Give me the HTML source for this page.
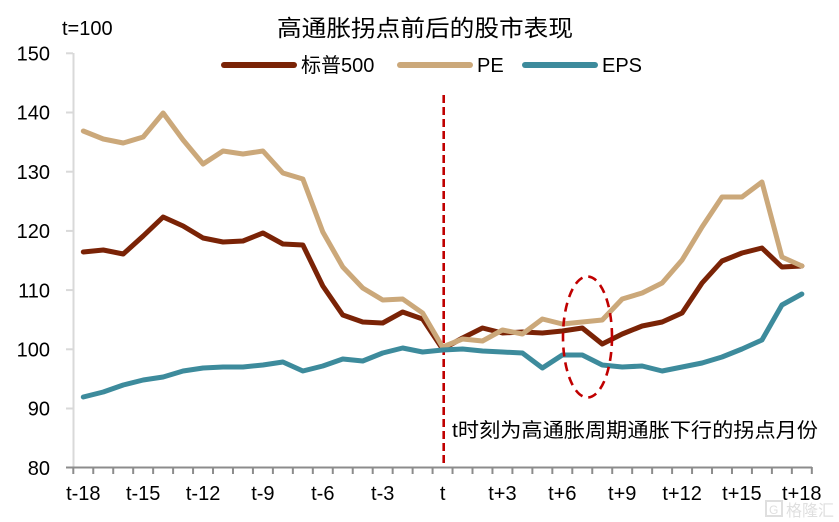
<!DOCTYPE html>
<html>
<head>
<meta charset="utf-8">
<style>
  html, body { margin: 0; padding: 0; background: #ffffff; }
  body { width: 839px; height: 522px; overflow: hidden; }
  svg { display: block; }
  text { font-family: "Liberation Sans", "Noto Sans CJK SC", sans-serif; fill: #000; }
</style>
</head>
<body>
<svg width="839" height="522" viewBox="0 0 839 522" xmlns="http://www.w3.org/2000/svg">
  <rect x="0" y="0" width="839" height="522" fill="#ffffff"/>

  <!-- title -->
  <text x="277" y="36" font-size="23" textLength="296" lengthAdjust="spacingAndGlyphs">高通胀拐点前后的股市表现</text>
  <text x="62" y="35" font-size="20">t=100</text>

  <!-- legend -->
  <line x1="224" y1="65" x2="294" y2="65" stroke="#7a2306" stroke-width="6" stroke-linecap="round"/>
  <text x="301" y="72" font-size="20">标普500</text>
  <line x1="400" y1="65" x2="470" y2="65" stroke="#cba87a" stroke-width="6" stroke-linecap="round"/>
  <text x="477" y="72" font-size="20">PE</text>
  <line x1="525" y1="65" x2="595" y2="65" stroke="#3d8b9c" stroke-width="6" stroke-linecap="round"/>
  <text x="602" y="72" font-size="20">EPS</text>

  <!-- y axis -->
  <line x1="73.5" y1="53" x2="73.5" y2="467" stroke="#d9d9d9" stroke-width="2"/>
  <g stroke="#d9d9d9" stroke-width="2">
    <line x1="66" y1="53.3" x2="73" y2="53.3"/>
    <line x1="66" y1="112.5" x2="73" y2="112.5"/>
    <line x1="66" y1="171.7" x2="73" y2="171.7"/>
    <line x1="66" y1="230.9" x2="73" y2="230.9"/>
    <line x1="66" y1="290.1" x2="73" y2="290.1"/>
    <line x1="66" y1="349.3" x2="73" y2="349.3"/>
    <line x1="66" y1="408.5" x2="73" y2="408.5"/>
  </g>
  <g font-size="20" text-anchor="end">
    <text x="50" y="60.5">150</text>
    <text x="50" y="119.7">140</text>
    <text x="50" y="178.9">130</text>
    <text x="50" y="238.1">120</text>
    <text x="50" y="297.3">110</text>
    <text x="50" y="356.5">100</text>
    <text x="50" y="415.7">90</text>
    <text x="50" y="474.9">80</text>
  </g>

  <!-- x axis -->
  <line x1="66" y1="467.5" x2="812" y2="467.5" stroke="#8c8c8c" stroke-width="2"/>
  <g stroke="#8c8c8c" stroke-width="2" id="xticks">
    <line x1="73.3" y1="467" x2="73.3" y2="474"/><line x1="93.26" y1="467" x2="93.26" y2="474"/><line x1="113.22" y1="467" x2="113.22" y2="474"/><line x1="133.18" y1="467" x2="133.18" y2="474"/><line x1="153.14" y1="467" x2="153.14" y2="474"/><line x1="173.1" y1="467" x2="173.1" y2="474"/><line x1="193.06" y1="467" x2="193.06" y2="474"/><line x1="213.02" y1="467" x2="213.02" y2="474"/><line x1="232.98" y1="467" x2="232.98" y2="474"/><line x1="252.94" y1="467" x2="252.94" y2="474"/><line x1="272.9" y1="467" x2="272.9" y2="474"/><line x1="292.86" y1="467" x2="292.86" y2="474"/><line x1="312.82" y1="467" x2="312.82" y2="474"/><line x1="332.78" y1="467" x2="332.78" y2="474"/><line x1="352.74" y1="467" x2="352.74" y2="474"/><line x1="372.7" y1="467" x2="372.7" y2="474"/><line x1="392.66" y1="467" x2="392.66" y2="474"/><line x1="412.62" y1="467" x2="412.62" y2="474"/><line x1="432.58" y1="467" x2="432.58" y2="474"/><line x1="452.54" y1="467" x2="452.54" y2="474"/><line x1="472.5" y1="467" x2="472.5" y2="474"/><line x1="492.46" y1="467" x2="492.46" y2="474"/><line x1="512.42" y1="467" x2="512.42" y2="474"/><line x1="532.38" y1="467" x2="532.38" y2="474"/><line x1="552.34" y1="467" x2="552.34" y2="474"/><line x1="572.3" y1="467" x2="572.3" y2="474"/><line x1="592.26" y1="467" x2="592.26" y2="474"/><line x1="612.22" y1="467" x2="612.22" y2="474"/><line x1="632.18" y1="467" x2="632.18" y2="474"/><line x1="652.14" y1="467" x2="652.14" y2="474"/><line x1="672.1" y1="467" x2="672.1" y2="474"/><line x1="692.06" y1="467" x2="692.06" y2="474"/><line x1="712.02" y1="467" x2="712.02" y2="474"/><line x1="731.98" y1="467" x2="731.98" y2="474"/><line x1="751.94" y1="467" x2="751.94" y2="474"/><line x1="771.9" y1="467" x2="771.9" y2="474"/><line x1="791.86" y1="467" x2="791.86" y2="474"/><line x1="811.82" y1="467" x2="811.82" y2="474"/>
  </g>
  <g font-size="20" text-anchor="middle">
    <text x="83.3" y="500">t-18</text>
    <text x="143.2" y="500">t-15</text>
    <text x="203.1" y="500">t-12</text>
    <text x="262.9" y="500">t-9</text>
    <text x="322.8" y="500">t-6</text>
    <text x="382.7" y="500">t-3</text>
    <text x="442.6" y="500">t</text>
    <text x="502.4" y="500">t+3</text>
    <text x="562.3" y="500">t+6</text>
    <text x="622.2" y="500">t+9</text>
    <text x="682.1" y="500">t+12</text>
    <text x="741.9" y="500">t+15</text>
    <text x="801.8" y="500">t+18</text>
  </g>

  <!-- vertical dashed line -->
  <line x1="443.7" y1="95" x2="443.7" y2="467" stroke="#c00000" stroke-width="2.6" stroke-dasharray="8,4"/>

  <!-- series -->
  <polyline fill="none" stroke="#7a2306" stroke-width="5" stroke-linejoin="round" stroke-linecap="round"
    points="83.3,252 103.26,250 123.22,254 143.18,236 163.14,217 183.1,226 203.06,238 223.02,242 242.98,241 262.94,233 282.9,244 302.86,245 322.82,286 342.78,315 362.74,322 382.7,323 402.66,312 422.62,319 442.58,349 462.54,338 482.5,328 502.46,333 522.42,332 542.38,333 562.34,331 582.3,328 602.26,344 622.22,334 642.18,326 662.14,322 682.1,313 702.06,283 722.02,261 741.98,253 761.94,248 781.9,267 801.86,266"/>
  <polyline fill="none" stroke="#cba87a" stroke-width="5" stroke-linejoin="round" stroke-linecap="round"
    points="83.3,131 103.26,139 123.22,143 143.18,137 163.14,113 183.1,140 203.06,164 223.02,151 242.98,154 262.94,151 282.9,173 302.86,179 322.82,232 342.78,267 362.74,288 382.7,300 402.66,299 422.62,313 442.58,347 462.54,339 482.5,341 502.46,330 522.42,334 542.38,319 562.34,324 582.3,322 602.26,320 622.22,299 642.18,293 662.14,283 682.1,260 702.06,227 722.02,197 741.98,197 761.94,182 781.9,257 801.86,266"/>
  <polyline fill="none" stroke="#3d8b9c" stroke-width="5" stroke-linejoin="round" stroke-linecap="round"
    points="83.3,397 103.26,392 123.22,385 143.18,380 163.14,377 183.1,371 203.06,368 223.02,367 242.98,367 262.94,365 282.9,362 302.86,371 322.82,366 342.78,359 362.74,361 382.7,353 402.66,348 422.62,352 442.58,350 462.54,349 482.5,351 502.46,352 522.42,353 542.38,368 562.34,355 582.3,355 602.26,365 622.22,367 642.18,366 662.14,371 682.1,367 702.06,363 722.02,357 741.98,349 761.94,340 781.9,305 801.86,294"/>

  <!-- ellipse -->
  <ellipse cx="587.5" cy="337" rx="24.5" ry="60.5" fill="none" stroke="#c00000" stroke-width="2.6" stroke-dasharray="9,6"/>

  <!-- annotation -->
  <text x="452" y="437" font-size="20" textLength="366" lengthAdjust="spacingAndGlyphs">t时刻为高通胀周期通胀下行的拐点月份</text>

  <!-- watermark -->
  <g opacity="0.9">
    <rect x="766" y="501" width="16" height="15" fill="none" stroke="#dcdcdc" stroke-width="2"/>
    <text x="769" y="514" font-size="12" fill="#dcdcdc" style="fill:#dcdcdc">G</text>
    <text x="786" y="516" font-size="16" style="fill:#dcdcdc">格隆汇</text>
  </g>
</svg>
</body>
</html>
